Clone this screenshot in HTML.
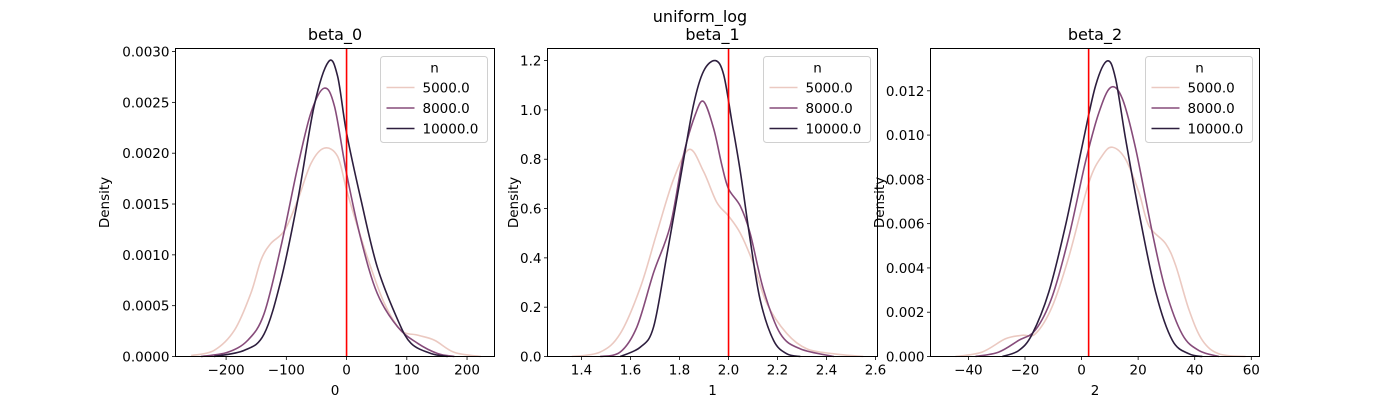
<!DOCTYPE html>
<html><head><meta charset="utf-8">
<style>
html,body{margin:0;padding:0;background:#fff;}
svg{display:block;font-family:"DejaVu Sans","Liberation Sans",sans-serif;}
</style></head>
<body>
<svg id="chart" width="1400" height="400" viewBox="0 0 1400 400" xmlns="http://www.w3.org/2000/svg">
<text x="700" y="22" text-anchor="middle" font-size="16">uniform_log</text>
</svg>
<script>
const seriesNames = ["5000.0", "8000.0", "10000.0"];
const seriesColors = ["#ebc9c1", "#864b7a", "#2d1e3e"];

const b0_5000_x = [-258,-220,-186,-159,-142,-126,-103,-81,-59,-37,-15,0,18,40,63,90,118,146,179,223];
const b0_5000_y = [0.00001,0.00006,0.00026,0.00062,0.00095,0.00111,0.00124,0.00154,0.0019,0.00205,0.00197,0.00164,0.00128,0.00088,0.00052,0.00026,0.00021,0.00016,0.00004,0];
const b0_8000_x = [-242,-198,-164,-137,-109,-81,-59,-37,-20,0,24,51,85,118,151,179];
const b0_8000_y = [0,0.00004,0.00016,0.00042,0.00108,0.00187,0.0024,0.00264,0.00246,0.0018,0.00115,0.00062,0.00029,0.00013,0.00003,0];
const b0_10000_x = [-220,-170,-137,-109,-81,-54,-30,-15,0,24,51,85,107,140,168];
const b0_10000_y = [0,0.00006,0.00022,0.00075,0.00154,0.00246,0.0029,0.00276,0.0022,0.00154,0.00088,0.00036,0.00013,0.00003,0];

const b1_5000_x = [1.36,1.476,1.558,1.64,1.707,1.776,1.84,1.898,1.952,2.0,2.048,2.10,2.156,2.238,2.32,2.43,2.55];
const b1_5000_y = [0,0.018,0.093,0.28,0.50,0.72,0.84,0.75,0.625,0.57,0.50,0.38,0.216,0.093,0.031,0.011,0];
const b1_8000_x = [1.476,1.558,1.626,1.694,1.762,1.816,1.864,1.898,1.939,1.973,2.0,2.048,2.088,2.143,2.211,2.293,2.43];
const b1_8000_y = [0,0.018,0.12,0.34,0.53,0.816,0.98,1.034,0.925,0.775,0.68,0.61,0.50,0.27,0.093,0.031,0];
const b1_10000_x = [1.558,1.64,1.694,1.748,1.803,1.857,1.898,1.946,1.98,2.014,2.048,2.088,2.129,2.184,2.238,2.293];
const b1_10000_y = [0,0.038,0.12,0.41,0.72,1.02,1.157,1.20,1.143,0.95,0.75,0.475,0.23,0.065,0.011,0];

const b2_5000_x = [-44.6,-35.2,-26.9,-21,-16.3,-10.4,-4.5,2.6,7.3,10.9,15.6,20.3,23.8,29.7,33.3,38,42.7,48.6,58];
const b2_5000_y = [0,0.0002,0.0008,0.00096,0.00103,0.00225,0.0045,0.00786,0.00907,0.00945,0.0089,0.0074,0.0059,0.0051,0.0041,0.0021,0.00073,0.00012,0];
const b2_8000_x = [-37.5,-29.3,-22.2,-16.3,-10.4,-4.5,1.4,6.1,10.3,14.4,19.1,25,29.7,35.6,41.5,48.6];
const b2_8000_y = [0,0.0002,0.00073,0.0012,0.0027,0.0054,0.0088,0.011,0.01215,0.01165,0.0094,0.0056,0.003,0.001,0.00027,0];
const b2_10000_x = [-28,-22.2,-17.5,-11.6,-5.7,0.2,5,9.1,12,15.6,20.3,26.2,32.1,38,42.7];
const b2_10000_y = [0,0.00027,0.001,0.0029,0.0059,0.0095,0.01225,0.01335,0.01256,0.0098,0.0065,0.0029,0.00073,0.00012,0];

const b0_xticks = [-200,-100,0,100,200];
const b0_yticks = [0,0.0005,0.001,0.0015,0.002,0.0025,0.003];
const b0_ylabels = ["0.0000","0.0005","0.0010","0.0015","0.0020","0.0025","0.0030"];
const b1_xticks = [1.4,1.6,1.8,2.0,2.2,2.4,2.6];
const b1_yticks = [0,0.2,0.4,0.6,0.8,1.0,1.2];
const b1_ylabels = ["0.0","0.2","0.4","0.6","0.8","1.0","1.2"];
const b2_xticks = [-40,-20,0,20,40,60];
const b2_yticks = [0,0.002,0.004,0.006,0.008,0.010,0.012];
const b2_ylabels = ["0.000","0.002","0.004","0.006","0.008","0.010","0.012"];
const trueValues = [0, 2, 2.5];

const NS = "http://www.w3.org/2000/svg";
const svg = document.getElementById("chart");
function mk(tag, attrs, parent){const e=document.createElementNS(NS,tag);for(const k in attrs)e.setAttribute(k,attrs[k]);(parent||svg).appendChild(e);return e;}

function smoothPath(pts){
  let d="M"+pts[0][0].toFixed(2)+","+pts[0][1].toFixed(2);
  for(let i=0;i<pts.length-1;i++){
    const p0=pts[Math.max(0,i-1)],p1=pts[i],p2=pts[i+1],p3=pts[Math.min(pts.length-1,i+2)];
    const c1=[p1[0]+(p2[0]-p0[0])/6,p1[1]+(p2[1]-p0[1])/6];
    const c2=[p2[0]-(p3[0]-p1[0])/6,p2[1]-(p3[1]-p1[1])/6];
    d+=" C"+c1[0].toFixed(2)+","+c1[1].toFixed(2)+" "+c2[0].toFixed(2)+","+c2[1].toFixed(2)+" "+p2[0].toFixed(2)+","+p2[1].toFixed(2);
  }
  return d;
}

const FS = 13.5;
const panels = [
  {title:"beta_0", xlab:"0", L:175.5, R:494.5, xmin:-284, xmax:245.6, ytop:0.00303,
   xs:[b0_5000_x,b0_8000_x,b0_10000_x], ys:[b0_5000_y,b0_8000_y,b0_10000_y], xt:b0_xticks, yt:b0_yticks, yl:b0_ylabels, xfmt:v=>String(v).replace("-","\u2212"), truth:trueValues[0], ylabX:104},
  {title:"beta_1", xlab:"1", L:547.5, R:877.5, xmin:1.261, xmax:2.608, ytop:1.249,
   xs:[b1_5000_x,b1_8000_x,b1_10000_x], ys:[b1_5000_y,b1_8000_y,b1_10000_y], xt:b1_xticks, yt:b1_yticks, yl:b1_ylabels, xfmt:v=>v.toFixed(1), truth:trueValues[1], ylabX:513},
  {title:"beta_2", xlab:"2", L:930.5, R:1259.5, xmin:-53.4, xmax:62.9, ytop:0.01391,
   xs:[b2_5000_x,b2_8000_x,b2_10000_x], ys:[b2_5000_y,b2_8000_y,b2_10000_y], xt:b2_xticks, yt:b2_yticks, yl:b2_ylabels, xfmt:v=>String(v).replace("-","\u2212"), truth:trueValues[2], ylabX:879}
];
const T=48.5, B=356.5;

panels.forEach((p,pi)=>{
  const g=mk("g",{});
  
  
  const X=v=>p.L+(v-p.xmin)/(p.xmax-p.xmin)*(p.R-p.L);
  const Y=v=>B-v/p.ytop*(B-T);
  p.xs.forEach((xa,si)=>{
    const pts=xa.map((x,i)=>[X(x),Y(p.ys[si][i])]);
    const path=mk("path",{d:smoothPath(pts),fill:"none",stroke:seriesColors[si],"stroke-width":1.6},g);
    
    
  });
  const vl=mk("line",{x1:X(p.truth),x2:X(p.truth),y1:T,y2:B,stroke:"#ff0000","stroke-width":1.6},g);
  
  
  const frame=mk("rect",{x:p.L,y:T,width:p.R-p.L,height:B-T,fill:"none",stroke:"#000","stroke-width":1},g);
  
  
  p.xt.forEach(v=>{
    const x=X(v);
    mk("line",{x1:x,x2:x,y1:B,y2:B+3.5,stroke:"#000","stroke-width":0.8},g);
    const t=mk("text",{x:x,y:B+18,"text-anchor":"middle","font-size":FS},g);
    t.textContent=p.xfmt(v);
    
    
  });
  p.yt.forEach((v,i)=>{
    const y=Y(v);
    mk("line",{x1:p.L-3.5,x2:p.L,y1:y,y2:y,stroke:"#000","stroke-width":0.8},g);
    const t=mk("text",{x:p.L-6,y:y+5,"text-anchor":"end","font-size":FS},g);
    t.textContent=p.yl[i];
    
    
  });
  const tt=mk("text",{x:(p.L+p.R)/2,y:40,"text-anchor":"middle","font-size":"16"},g);
  tt.textContent=p.title;
  
  
  const xl=mk("text",{x:(p.L+p.R)/2,y:395,"text-anchor":"middle","font-size":FS},g);
  xl.textContent=p.xlab;
  
  
  const yl=mk("text",{x:0,y:0,"text-anchor":"middle","font-size":FS,transform:"translate("+(p.ylabX+5)+","+((T+B)/2)+") rotate(-90)"},g);
  yl.textContent="Density";
  
  
  const lx=p.R-114, ly=T+8;
  const lg=mk("g",{},g);
  
  
  mk("rect",{x:lx,y:ly,width:107,height:86,rx:3,fill:"#fff","fill-opacity":0.8,stroke:"#d0d0d0","stroke-width":1},lg);
  const lt=mk("text",{x:lx+54,y:ly+16,"text-anchor":"middle","font-size":FS},lg);
  lt.textContent="n";
  
  
  seriesNames.forEach((n,si)=>{
    const yy=ly+31+si*20.5;
    const ll=mk("line",{x1:lx+6,x2:lx+34,y1:yy,y2:yy,stroke:seriesColors[si],"stroke-width":1.6},lg);
    
    
    const te=mk("text",{x:lx+42,y:yy+5,"font-size":FS},lg);
    te.textContent=n;
    
    
  });
});
</script>
</body></html>
